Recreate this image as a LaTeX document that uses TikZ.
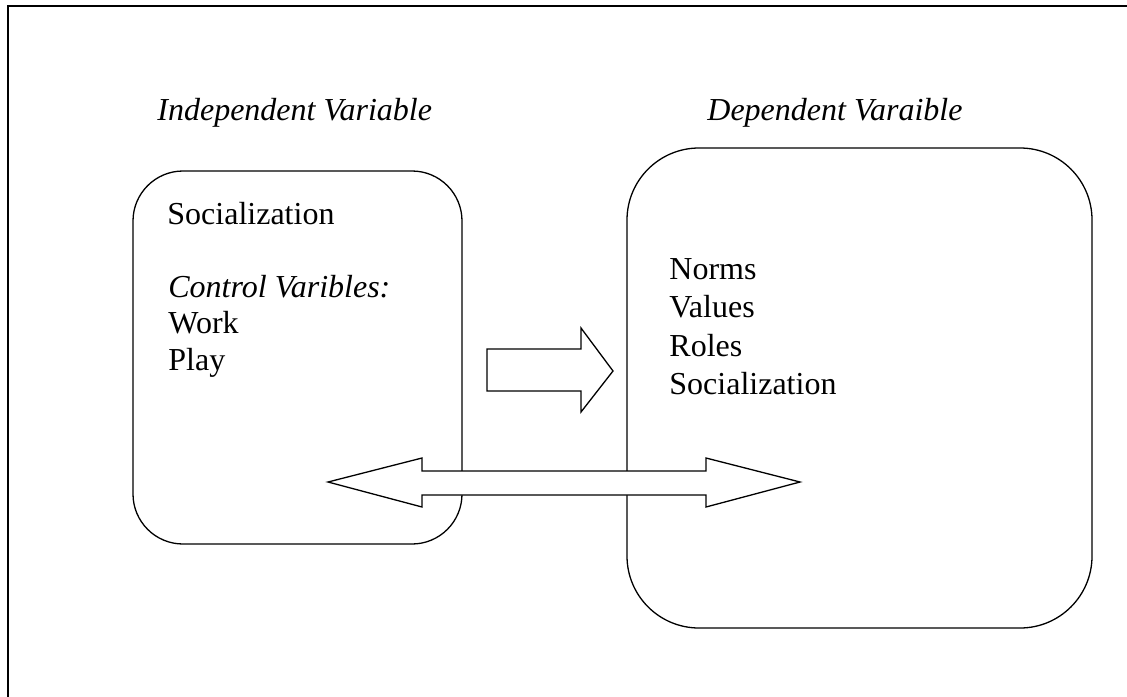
\documentclass[tikz,border=0pt]{standalone}
\usepackage{fontspec}
\setmainfont{Liberation Serif}
\usepackage{tikz}

\begin{document}
\begin{tikzpicture}[
    x=0.5pt, y=-0.5pt,
    box/.style={rectangle, draw, line width=0.65pt, inner sep=0pt, outer sep=0pt},
    lbl/.style={anchor=base west, inner sep=0pt, font=\fontsize{16}{19}\selectfont},
    title/.style={lbl, font=\fontsize{16}{19}\selectfont\itshape},
    blockarrow/.style={draw, fill=white, line width=0.65pt, line join=miter},
]
    \useasboundingbox (0,0) rectangle (1127,696);
    \clip (0,0) rectangle (1127,696);
    \draw[line width=1pt] (8,6) rectangle (1140,710);

    % the two groups of variables
    \node[box, rounded corners=25pt, minimum width=164.5pt, minimum height=186.5pt] (indep) at (297.5,357.5) {};
    \node[box, rounded corners=36pt, minimum width=232.5pt, minimum height=240pt] (dep) at (859.5,388) {};

    \node[title] (indeptitle) at (157,120) {Independent Variable};
    \node[title] (deptitle) at (707,120) {Dependent Varaible};

    \node[lbl] (soc) at (167,224) {Socialization};
    \node[title] (ctrl) at (168,297) {Control Varibles:};
    \node[lbl] (work) at (168,333) {Work};
    \node[lbl] (play) at (168,370) {Play};

    \node[lbl] (norms) at (669,279) {Norms};
    \node[lbl] (values) at (669,317) {Values};
    \node[lbl] (roles) at (669,356) {Roles};
    \node[lbl] (socdep) at (669,394) {Socialization};

    % block arrows
    \draw[blockarrow] (487,349) -- (581,349) -- (581,328) -- (613,371)
        -- (581,412) -- (581,391) -- (487,391) -- cycle;
    \draw[blockarrow] (328,482) -- (422,458) -- (422,471) -- (706,471) -- (706,458)
        -- (800,482) -- (706,507) -- (706,495) -- (422,495) -- (422,507) -- cycle;
\end{tikzpicture}
\end{document}
